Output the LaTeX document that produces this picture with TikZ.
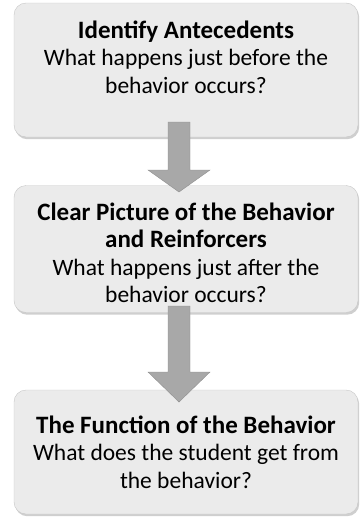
\documentclass[tikz,border=0pt]{standalone}
\usepackage{fontspec}
\setmainfont{Carlito}
\usetikzlibrary{shadows}
\begin{document}
\begin{tikzpicture}[x=1pt,y=-1pt,
  stepbox/.style={draw=gray!45, fill=gray!16, rounded corners=12pt, minimum width=344pt, inner sep=0pt,
    drop shadow={shadow xshift=1.2pt, shadow yshift=-2.2pt, fill=gray!75}},
  boxtext/.style={align=center, inner sep=0pt, font=\fontsize{23.5}{27.5}\selectfont},
  downarrow/.style={fill=gray!68, draw=gray!88, line width=0.4pt}]
\useasboundingbox (0,0) rectangle (360,522);
\node[stepbox, minimum height=134pt] (b1) at (186,70) {};
\node[stepbox, minimum height=127pt] (b2) at (186,249) {};
\node[stepbox, minimum height=124pt] (b3) at (186,452) {};
\node[boxtext] (t1) at (186,57) {{\bfseries\fontsize{25}{27.5}\selectfont Identify Antecedents}\\What happens just before the\\behavior occurs?};
\node[boxtext] (t2) at (186,253) {{\bfseries\fontsize{25}{27.5}\selectfont Clear Picture of the Behavior}\\{\bfseries\fontsize{25}{27.5}\selectfont and Reinforcers}\\What happens just after the\\behavior occurs?};
\node[boxtext] (t3) at (186,452) {{\bfseries\fontsize{25}{27.5}\selectfont The Function of the Behavior}\\What does the student get from\\the behavior?};
% arrow 1
\coordinate (a1top) at (179,122);
\coordinate (a1tip) at (179,192);
\draw[downarrow] ([xshift=-11pt]a1top) -- ([xshift=-11pt,yshift=-48pt]a1top) -- ([xshift=-31pt,yshift=-48pt]a1top) -- (a1tip) -- ([xshift=31pt,yshift=-48pt]a1top) -- ([xshift=11pt,yshift=-48pt]a1top) -- ([xshift=11pt]a1top) -- cycle;
% arrow 2
\coordinate (a2top) at (179,306);
\coordinate (a2tip) at (179,402);
\draw[downarrow] ([xshift=-11pt]a2top) -- ([xshift=-11pt,yshift=-66pt]a2top) -- ([xshift=-31pt,yshift=-66pt]a2top) -- (a2tip) -- ([xshift=31pt,yshift=-66pt]a2top) -- ([xshift=11pt,yshift=-66pt]a2top) -- ([xshift=11pt]a2top) -- cycle;
\end{tikzpicture}
\end{document}
